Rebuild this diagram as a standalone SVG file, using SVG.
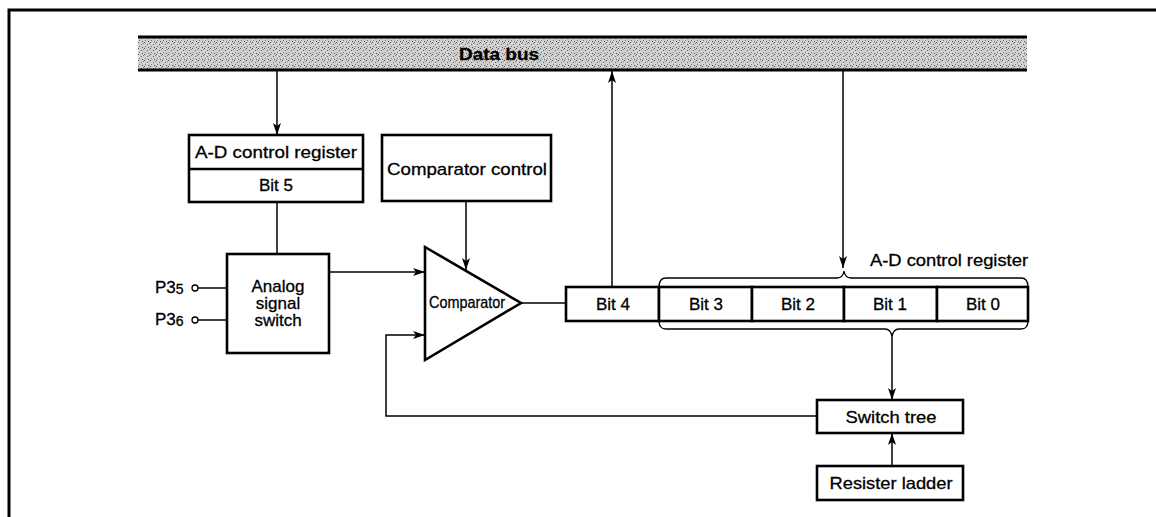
<svg xmlns="http://www.w3.org/2000/svg" width="1156" height="517" viewBox="0 0 1156 517">
<style>
  text{font-family:"Liberation Sans",Arial,sans-serif;fill:#000;stroke:#000;stroke-width:0.3;font-size:17px;text-anchor:middle}
  .box{fill:#fff;stroke:#000;stroke-width:2.6}
  .ln{fill:none;stroke:#000;stroke-width:1.5}
  .br{fill:none;stroke:#000;stroke-width:1.3}
  .frame{fill:none;stroke:#000;stroke-width:3}
</style>
<defs>
  <pattern id="stip" width="6" height="6" patternUnits="userSpaceOnUse">
    <rect width="6" height="6" fill="#d0d0d0"/>
    <rect x="0" y="0" width="1" height="1" fill="#555"/>
    <rect x="3" y="2" width="1" height="1" fill="#666"/>
    <rect x="1" y="4" width="1" height="1" fill="#777"/>
    <rect x="4" y="5" width="1" height="1" fill="#555"/>
    <rect x="5" y="1" width="1" height="1" fill="#888"/>
  </pattern>
  <marker id="arr" viewBox="0 0 12 8" refX="12" refY="4" markerWidth="12" markerHeight="8" markerUnits="userSpaceOnUse" orient="auto">
    <path d="M0,0 L12,4 L0,8 L3,4 z" fill="#000"/>
  </marker>
</defs>
<rect width="1156" height="517" fill="#fff"/>
<path class="frame" d="M9,517 V10 H1156"/>

<g id="data-bus">
  <rect x="138" y="37" width="889" height="33" fill="url(#stip)"/>
  <line x1="138" y1="37" x2="1027" y2="37" stroke="#000" stroke-width="3"/>
  <line x1="138" y1="70" x2="1027" y2="70" stroke="#000" stroke-width="3"/>
  <text x="499" y="60" font-weight="bold" font-size="18" textLength="80" lengthAdjust="spacingAndGlyphs">Data bus</text>
</g>

<g id="connectors">
  <line class="ln" x1="277" y1="71" x2="277" y2="135" marker-end="url(#arr)"/>
  <line class="ln" x1="277" y1="202" x2="277" y2="254"/>
  <line class="ln" x1="466" y1="201" x2="466" y2="270" marker-end="url(#arr)"/>
  <line class="ln" x1="329" y1="272" x2="425" y2="272" marker-end="url(#arr)"/>
  <line class="ln" x1="198" y1="288" x2="227" y2="288"/>
  <line class="ln" x1="198" y1="320" x2="227" y2="320"/>
  <line class="ln" x1="521" y1="303" x2="566" y2="303"/>
  <line class="ln" x1="612" y1="287" x2="612" y2="71" marker-end="url(#arr)"/>
  <line class="ln" x1="843" y1="71" x2="843" y2="268" marker-end="url(#arr)"/>
  <line class="ln" x1="892" y1="337" x2="892" y2="400" marker-end="url(#arr)"/>
  <line class="ln" x1="892" y1="466" x2="892" y2="433" marker-end="url(#arr)"/>
  <polyline class="ln" points="817,416 386,416 386,335 425,335" marker-end="url(#arr)"/>
</g>

<g id="ad-control-register-bit5">
  <rect class="box" x="189" y="135" width="174" height="67"/>
  <line x1="189" y1="169" x2="363" y2="169" stroke="#000" stroke-width="2.6"/>
  <text x="276" y="158" textLength="162" lengthAdjust="spacingAndGlyphs">A-D control register</text>
  <text x="276" y="191">Bit 5</text>
</g>

<g id="comparator-control">
  <rect class="box" x="382" y="135" width="169" height="66"/>
  <text x="467" y="175" textLength="160" lengthAdjust="spacingAndGlyphs">Comparator control</text>
</g>

<g id="analog-signal-switch">
  <rect class="box" x="227" y="254" width="102" height="99"/>
  <text x="278" y="292">Analog</text>
  <text x="278" y="309">signal</text>
  <text x="278" y="326">switch</text>
</g>

<g id="p35">
  <circle cx="195" cy="288" r="3" fill="#fff" stroke="#000" stroke-width="1.3"/>
  <text x="155" y="293" style="text-anchor:start">P3<tspan font-size="14" dy="1">5</tspan></text>
</g>
<g id="p36">
  <circle cx="195" cy="320" r="3" fill="#fff" stroke="#000" stroke-width="1.3"/>
  <text x="155" y="325" style="text-anchor:start">P3<tspan font-size="14" dy="1">6</tspan></text>
</g>

<g id="comparator">
  <polygon class="box" points="425,247 521,303 425,360"/>
  <text x="467" y="308" font-size="14.5" textLength="76" lengthAdjust="spacingAndGlyphs">Comparator</text>
</g>

<g id="bit4">
  <rect class="box" x="566" y="287" width="93" height="34"/>
  <text x="613" y="310">Bit 4</text>
</g>
<g id="bit3">
  <rect class="box" x="659" y="287" width="93" height="34"/>
  <text x="706" y="310">Bit 3</text>
</g>
<g id="bit2">
  <rect class="box" x="752" y="287" width="92" height="34"/>
  <text x="798" y="310">Bit 2</text>
</g>
<g id="bit1">
  <rect class="box" x="844" y="287" width="93" height="34"/>
  <text x="890" y="310">Bit 1</text>
</g>
<g id="bit0">
  <rect class="box" x="937" y="287" width="91" height="34"/>
  <text x="983" y="310">Bit 0</text>
</g>

<g id="ad-control-register-brace">
  <path class="br" d="M659,287 Q659,278 666,278 L837,278 Q843,278 844,271 Q845,278 851,278 L1021,278 Q1028,278 1028,287"/>
  <path class="br" d="M659,321 Q659,329 666,329 L885,329 Q891,329 892,337 Q893,329 899,329 L1021,329 Q1028,329 1028,321"/>
  <text x="949" y="266" textLength="158" lengthAdjust="spacingAndGlyphs">A-D control register</text>
</g>

<g id="switch-tree">
  <rect class="box" x="817" y="400" width="146" height="33"/>
  <text x="891" y="423" textLength="91" lengthAdjust="spacingAndGlyphs">Switch tree</text>
</g>

<g id="resister-ladder">
  <rect class="box" x="817" y="466" width="146" height="34"/>
  <text x="891" y="489" textLength="123" lengthAdjust="spacingAndGlyphs">Resister ladder</text>
</g>
</svg>
